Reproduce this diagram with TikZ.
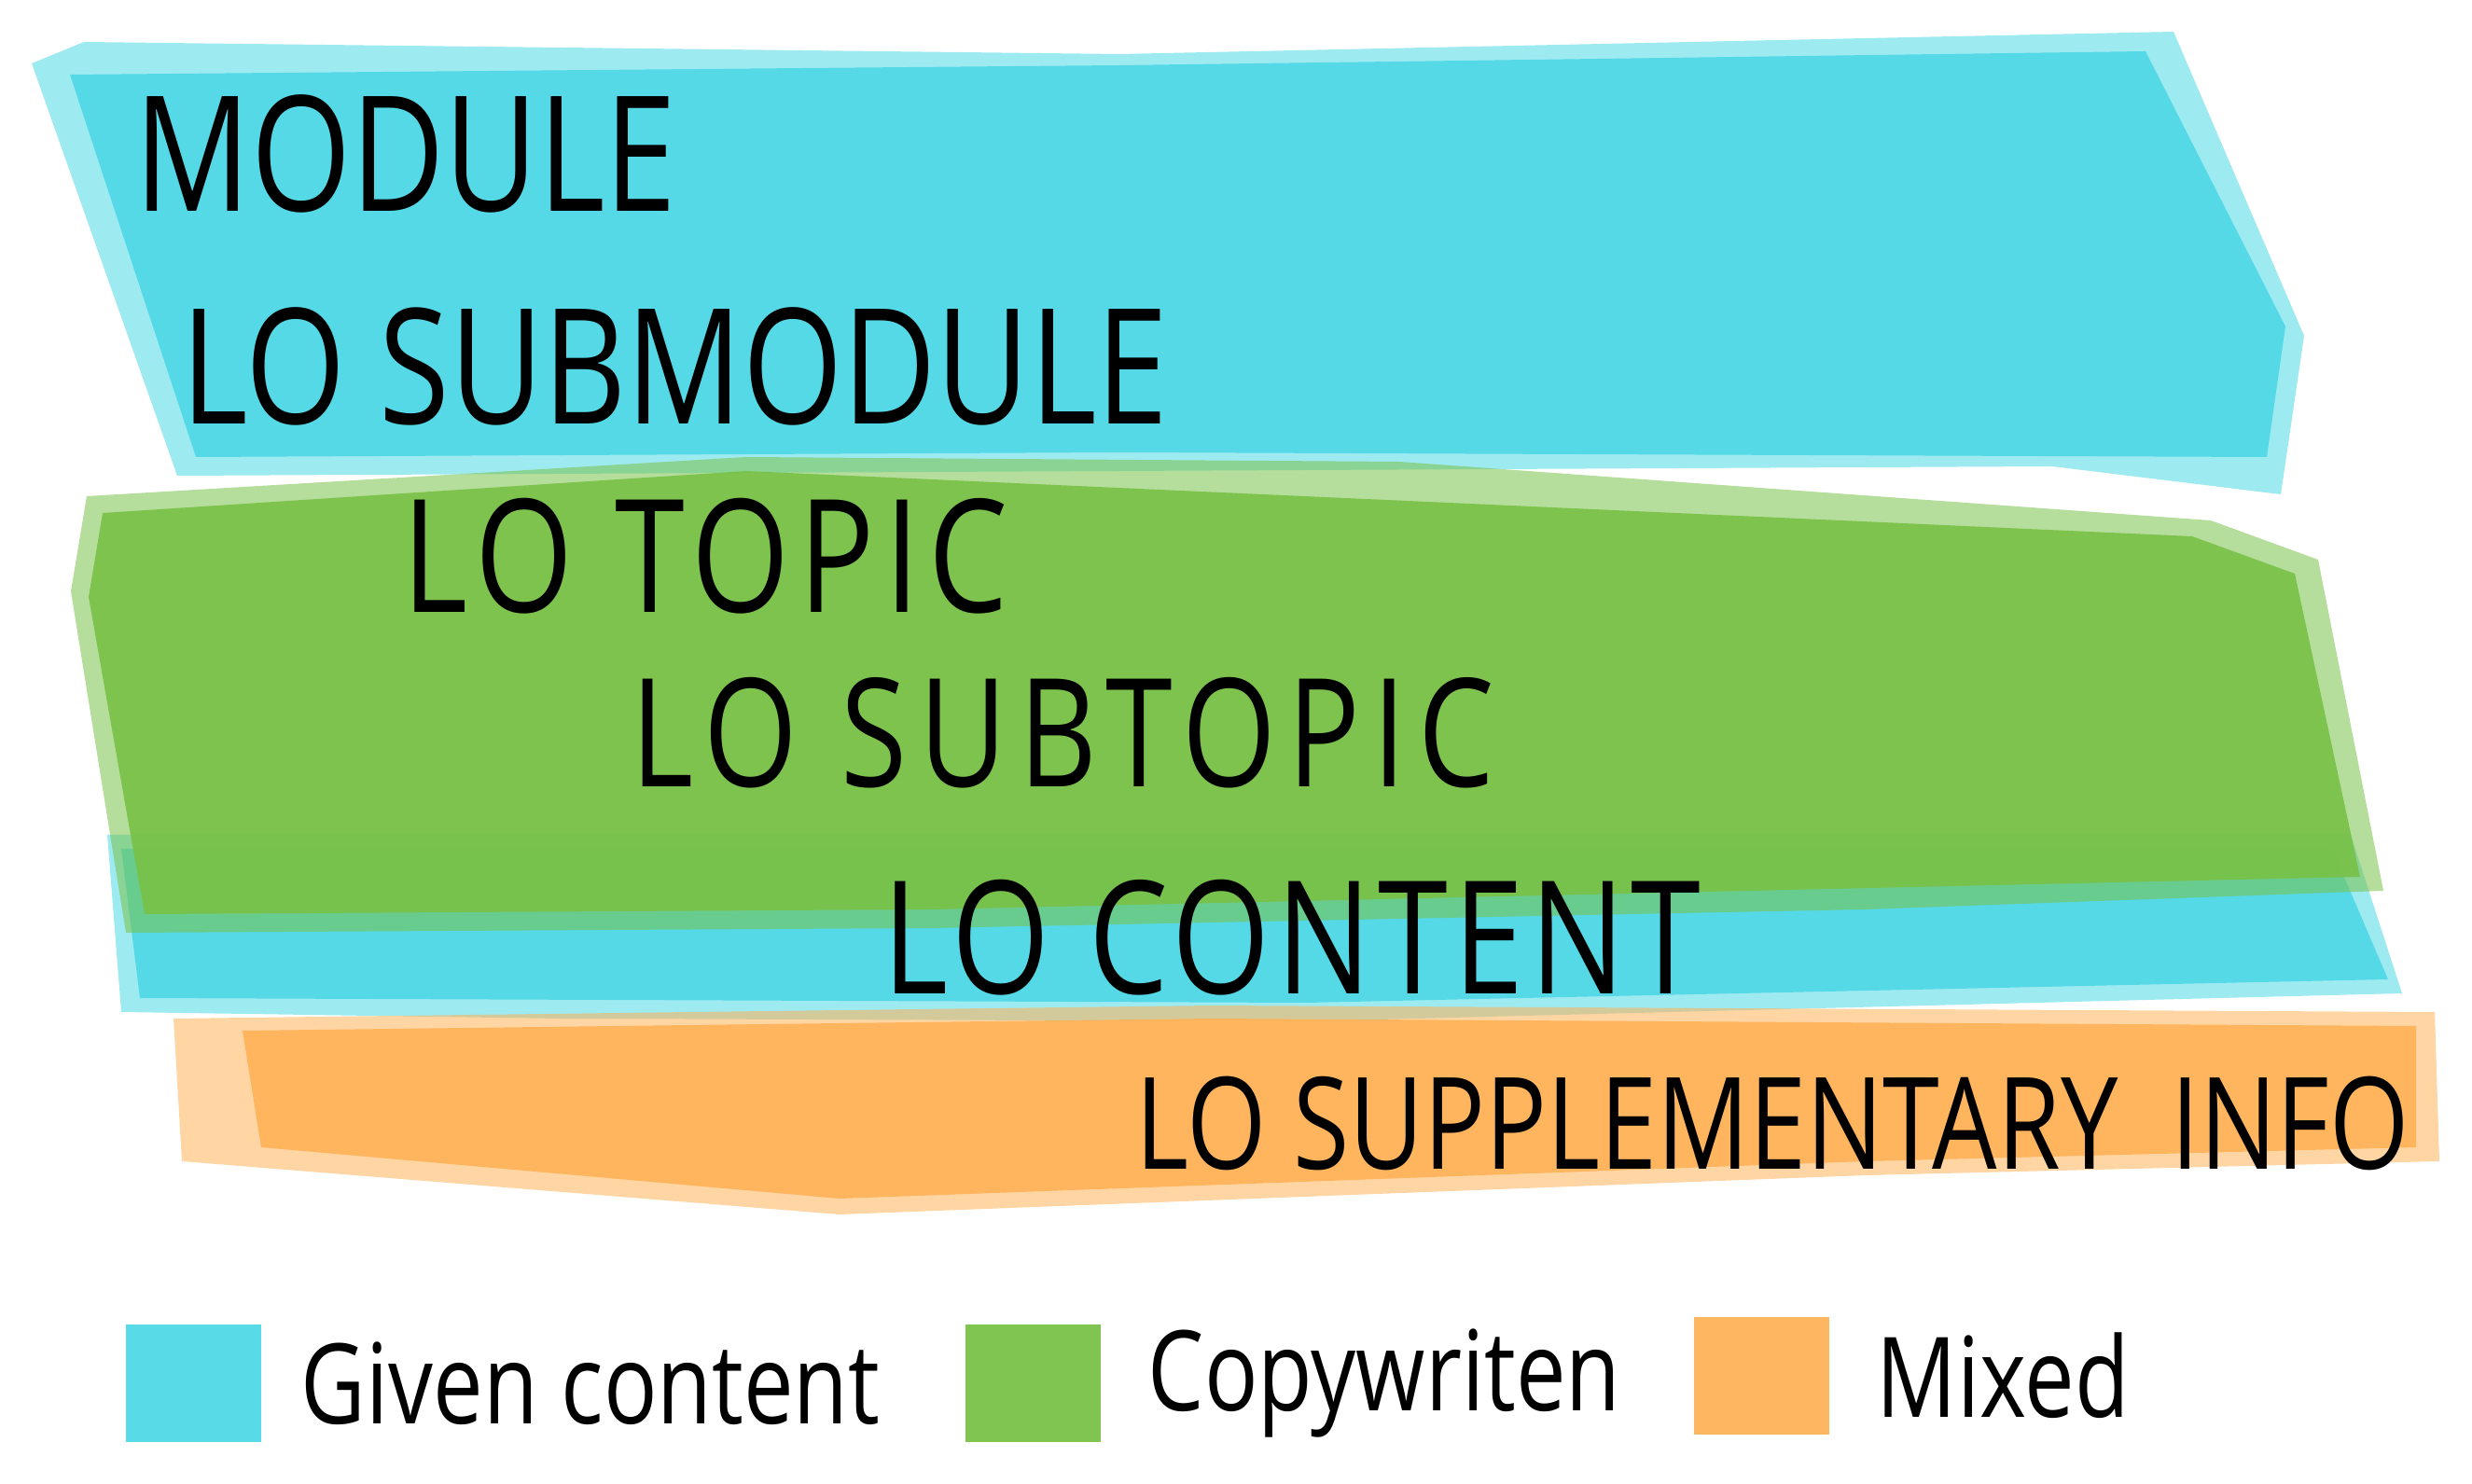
\documentclass[tikz,border=0pt]{standalone}
\usepackage{fontspec}
\newfontfamily\hand[FakeStretch=0.8]{Open Sans}
\usetikzlibrary{positioning}
\definecolor{givenblue}{RGB}{79,216,230}
\definecolor{copygreen}{RGB}{121,193,72}
\definecolor{mixorange}{RGB}{255,178,87}

\tikzset{
  edgestroke/.style={fill=#1, draw=none, fill opacity=0.55},
  band/.style={fill=#1, draw=none, fill opacity=0.92},
  level/.style={anchor=west, inner sep=0pt, text=black},
  keybox/.style={fill=#1, draw=none, fill opacity=0.95, minimum width=1.45cm,
    minimum height=1.26cm, inner sep=0pt},
  keytext/.style={inner sep=0pt, text=black, font=\hand\fontsize{34}{40}\selectfont},
}

\begin{document}
\begin{tikzpicture}
  \useasboundingbox (0,0) rectangle (26.5,15.9);

  % Given content (top)
  \fill[edgestroke=givenblue] (0.34,15.22) -- (0.9,15.45) -- (12,15.32) -- (23.3,15.56)
    -- (24.7,12.3) -- (24.45,10.6) -- (22,10.9) -- (12,10.85) -- (1.9,10.8) -- cycle;
  \fill[band=givenblue] (0.75,15.1) -- (12,15.2) -- (23.0,15.35) -- (24.5,12.4)
    -- (24.3,11.0) -- (12,11.05) -- (2.1,11.0) -- cycle;

  % Given content (strip above mixed)
  \fill[edgestroke=givenblue] (1.15,6.95) -- (25.2,6.95) -- (25.75,5.25) -- (14,4.95)
    -- (6,4.98) -- (1.3,5.05) -- cycle;
  \fill[band=givenblue] (1.3,6.8) -- (25.0,6.8) -- (25.6,5.4) -- (14,5.15) -- (1.5,5.2) -- cycle;

  % Copywriten
  \fill[edgestroke=copygreen] (0.93,10.58) -- (8,11.0) -- (15,10.95) -- (23.7,10.32)
    -- (24.85,9.9) -- (25.55,6.35) -- (20,6.15) -- (10,5.95) -- (1.35,5.9) -- (0.76,9.56) -- cycle;
  \fill[band=copygreen] (1.1,10.4) -- (8,10.85) -- (23.5,10.15) -- (24.6,9.75)
    -- (25.3,6.5) -- (10,6.15) -- (1.55,6.1) -- (0.95,9.5) -- cycle;

  % Mixed
  \fill[edgestroke=mixorange] (1.86,4.98) -- (13,5.12) -- (26.1,5.05) -- (26.15,3.45)
    -- (20,3.3) -- (9,2.88) -- (1.95,3.45) -- cycle;
  \fill[band=mixorange] (2.6,4.85) -- (13,4.98) -- (25.9,4.9) -- (25.9,3.6)
    -- (20,3.45) -- (9,3.05) -- (2.8,3.6) -- cycle;

  % Levels
  \node[level, font=\hand\fontsize{49}{56}\selectfont] (module) at (1.44,14.25) {MODULE};
  \node[level, font=\hand\fontsize{49}{56}\selectfont] (submodule) at (1.94,11.97) {LO SUBMODULE};
  \node[level, font=\hand\fontsize{48}{56}\addfontfeature{LetterSpace=6}\selectfont] (topic) at (4.31,9.94) {LO TOPIC};
  \node[level, font=\hand\fontsize{46}{54}\addfontfeature{LetterSpace=8}\selectfont] (subtopic) at (6.76,8.04) {LO SUBTOPIC};
  \node[level, font=\hand\fontsize{48}{56}\addfontfeature{LetterSpace=4}\selectfont] (content) at (9.46,5.85) {LO CONTENT};
  \node[level, font=\hand\fontsize{39}{46}\selectfont] (suppl) at (12.17,3.86) {LO SUPPLEMENTARY\ \ INFO};

  % Key
  \node[keybox=givenblue] (keygiven) at (2.07,1.07) {};
  \node[keytext, right=0.42cm of keygiven] (givenlab) {Given content};
  \node[keybox=copygreen] (keycopy) at (11.07,1.07) {};
  \node[keytext, right=0.5cm of keycopy] (copylab) {Copywriten};
  \node[keybox=mixorange] (keymixed) at (18.88,1.15) {};
  \node[keytext, right=0.5cm of keymixed] (mixedlab) {Mixed};
\end{tikzpicture}
\end{document}
